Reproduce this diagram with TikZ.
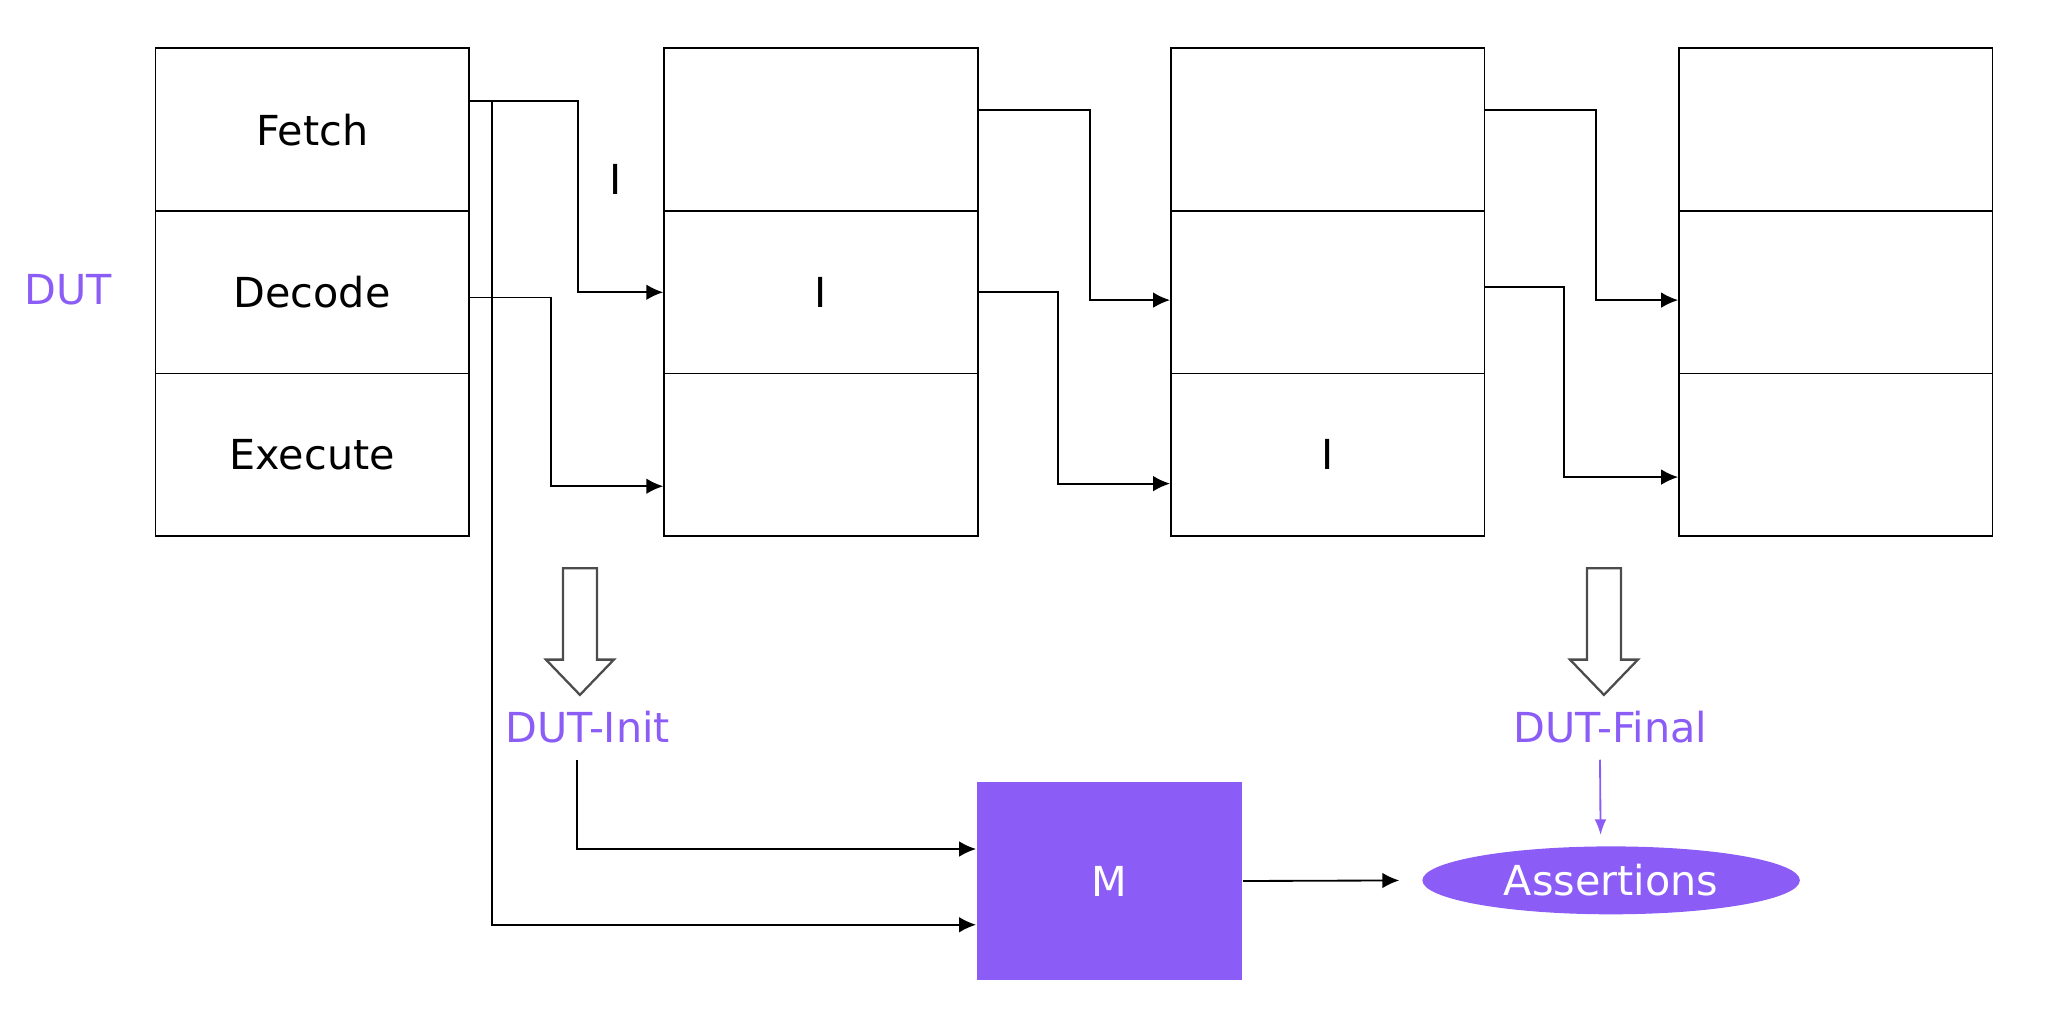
\documentclass[tikz,border=0pt]{standalone}
\usepackage{fontspec}
\setmainfont{DejaVu Sans}
\usetikzlibrary{arrows.meta,shapes.geometric,positioning}
\definecolor{dutviolet}{HTML}{8B5CF6}

\begin{document}
\begin{tikzpicture}[font=\fontsize{9}{11}\selectfont, line width=0.4pt,
    cell/.style={draw, minimum width=2.4cm, minimum height=1.245cm, inner sep=0pt},
    flow/.style={-{Latex[length=1.3mm,width=1.2mm]}},
    state/.style={text=dutviolet},
    hollow/.style={draw=black!70, line width=0.5pt}]
      \useasboundingbox (0,0) rectangle (15.68,-7.725);
      % pipeline stages, one column per cycle
      \node[cell] (f1) at (2.39,-0.9925) {Fetch};
      \node[cell] (d1) at (2.39,-2.2375) {Decode};
      \node[cell] (e1) at (2.39,-3.4825) {Execute};
      \node[cell] (f2) at (6.285,-0.9925) {};
      \node[cell] (d2) at (6.285,-2.2375) {I};
      \node[cell] (e2) at (6.285,-3.4825) {};
      \node[cell] (f3) at (10.165,-0.9925) {};
      \node[cell] (d3) at (10.165,-2.2375) {};
      \node[cell] (e3) at (10.165,-3.4825) {I};
      \node[cell] (f4) at (14.055,-0.9925) {};
      \node[cell] (d4) at (14.055,-2.2375) {};
      \node[cell] (e4) at (14.055,-3.4825) {};
      \node[state] (dut) at (0.52,-2.22) {DUT};
      \node (ilbl) at (4.71,-1.37) {I};
      % model and checks
      \node[fill=dutviolet, text=white, minimum width=2.03cm, minimum height=1.51cm] (M) at (8.495,-6.745) {M};
      \node[ellipse, fill=dutviolet, text=white, minimum width=2.89cm, minimum height=0.52cm, inner sep=0pt] (assert) at (12.335,-6.74) {Assertions};
      \node[state] (dutinit) at (4.50,-5.57) {DUT-Init};
      \node[state] (dutfinal) at (12.33,-5.57) {DUT-Final};
      % stage to stage
      \coordinate (tap) at ([xshift=1.7mm,yshift=2.2mm]f1.east);
      \draw[flow] ([yshift=2.2mm]f1.east) -- ++(0.83,0) |- (d2.west);
      \draw[flow] ([yshift=-0.4mm]d1.east) -- ++(0.62,0) |- ([yshift=-2.4mm]e2.west);
      \draw[flow] ([yshift=1.5mm]f2.east) -- ++(0.85,0) |- ([yshift=-0.6mm]d3.west);
      \draw[flow] (d2.east) -- ++(0.61,0) |- ([yshift=-2.2mm]e3.west);
      \draw[flow] ([yshift=1.5mm]f3.east) -- ++(0.85,0) |- ([yshift=-0.6mm]d4.west);
      \draw[flow] ([yshift=0.4mm]d3.east) -- ++(0.60,0) |- ([yshift=-1.7mm]e4.west);
      % snapshots
      \draw[hollow] (4.31,-4.35) -- (4.57,-4.35) -- (4.57,-5.05) -- (4.70,-5.05) -- (4.44,-5.32) -- (4.18,-5.05) -- (4.31,-5.05) -- cycle;
      \draw[hollow] (12.15,-4.35) -- (12.41,-4.35) -- (12.41,-5.05) -- (12.54,-5.05) -- (12.28,-5.32) -- (12.02,-5.05) -- (12.15,-5.05) -- cycle;
      \draw[flow] (tap) |- ([yshift=-3.35mm]M.west);
      \draw[flow] ([xshift=-0.8mm]dutinit.south) |- ([yshift=2.45mm]M.west);
      \draw[flow, shorten >=1.7mm] (M.east) -- (assert.west);
      \draw[-{Latex[length=1.2mm,width=0.9mm]}, dutviolet, shorten >=0.8mm] ([xshift=-0.8mm]dutfinal.south) -- ([xshift=-0.8mm]assert.north);
    \end{tikzpicture}
\end{document}
